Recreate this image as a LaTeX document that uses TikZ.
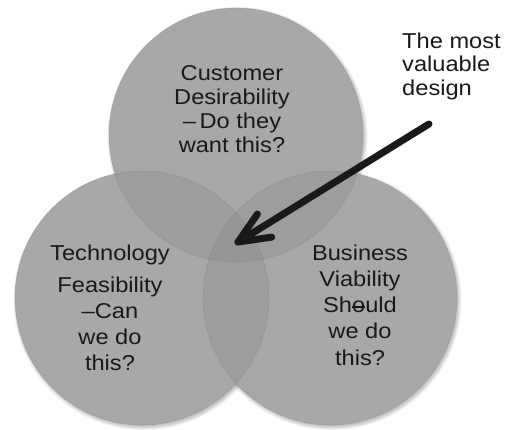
\documentclass[tikz,border=0pt]{standalone}
\usepackage{fontspec}
\setmainfont[FakeStretch=1.1]{Liberation Sans}
\usetikzlibrary{calc}
\definecolor{singlefill}{gray}{0.66}
\definecolor{doublefill}{gray}{0.615}
\definecolor{triplefill}{gray}{0.585}
\definecolor{rimcol}{gray}{0.5}
\definecolor{inkcol}{gray}{0.1}
\begin{document}
\begin{tikzpicture}[x=1pt,y=1pt,
  lbl/.style={inner sep=0pt, align=center, text=inkcol},
  arrowline/.style={line width=7pt, line cap=round, line join=round, draw=inkcol}]
\useasboundingbox (0,0) rectangle (505,430);
\fill[white] (0,0) rectangle (505,430);
\def\R{127}
\coordinate (C1) at (236,295);
\coordinate (C2) at (142,132);
\coordinate (C3) at (330,132);
% soft shadows
\foreach \c in {C1,C2,C3}{
  \foreach \i in {0,...,7}{
    \fill[black,opacity=0.03] ($(\c)+(1.5,-2)$) circle ({\R-1+0.6*\i});
  }
}
% base fills
\foreach \c in {C1,C2,C3}{
  \fill[singlefill] (\c) circle (\R);
}
% pairwise overlaps
\begin{scope}
  \clip (C1) circle (\R);
  \fill[doublefill] (C2) circle (\R);
  \fill[doublefill] (C3) circle (\R);
\end{scope}
\begin{scope}
  \clip (C2) circle (\R);
  \fill[doublefill] (C3) circle (\R);
\end{scope}
% triple overlap
\begin{scope}
  \clip (C1) circle (\R);
  \clip (C2) circle (\R);
  \fill[triplefill] (C3) circle (\R);
\end{scope}
% rims
\foreach \c in {C1,C2,C3}{
  \draw[rimcol, opacity=0.35, line width=0.6pt] (\c) circle (\R);
}
% labels
\node[lbl, font=\fontsize{21.5}{24}\selectfont] (desir) at (232,320.5)
  {Customer\\Desirability\\–\,Do they\\want this?};
\node[lbl, font=\fontsize{21.5}{26}\selectfont] (tech) at (110,122)
  {Technology\\[6pt]Feasibility\\–Can\\we do\\this?};
\node[lbl, font=\fontsize{21.5}{26.25}\selectfont] (biz) at (360,125)
  {Business\\Viability\\Sh\rlap{\raisebox{0.24em}{\rule{0.62em}{0.08em}}}ould\\we do\\this?};
\node[lbl, align=left, anchor=west, font=\fontsize{21.5}{23.5}\selectfont] (note) at (402,364)
  {The most\\valuable\\design};
% arrow
\coordinate (tail) at (429,306);
\coordinate (tip) at (238,188);
\coordinate (b1) at ($(tip)!34pt!23.5:(tail)$);
\coordinate (b2) at ($(tip)!34pt!-23.5:(tail)$);
\draw[arrowline] (tail) -- (tip);
\draw[arrowline] (b1) -- (tip) -- (b2);
\end{tikzpicture}
\end{document}
